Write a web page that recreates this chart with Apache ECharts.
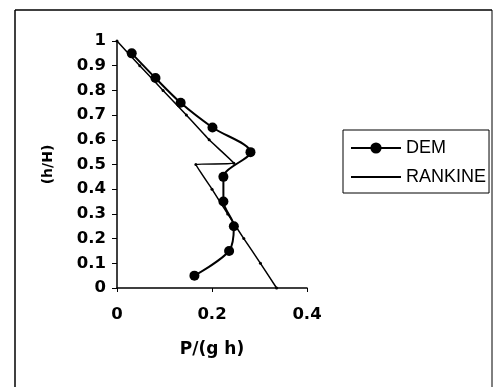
<!DOCTYPE html>
<html>
<head>
<meta charset="utf-8">
<script src="https://cdn.jsdelivr.net/npm/echarts@6/dist/echarts.min.js"></script>
<style>
html, body { margin: 0; padding: 0; background: #fff; }
#chart { width: 494px; height: 387px; }
</style>
</head>
<body>
<div id="chart"></div>
<script>
// DEM results, P/(g h) against h/H
const demX = [0.031, 0.081, 0.134, 0.201, 0.281, 0.224, 0.224, 0.246, 0.236, 0.163]
const demY = [0.95, 0.85, 0.75, 0.65, 0.55, 0.45, 0.35, 0.25, 0.15, 0.05]
// Rankine curve
const rankineX = [0, 0.048, 0.097, 0.146, 0.194, 0.246, 0.166, 0.2, 0.233, 0.267, 0.302, 0.336]
const rankineY = [1, 0.9, 0.8, 0.7, 0.6, 0.505, 0.5, 0.4, 0.3, 0.2, 0.1, 0]
const xTicks = [0, 0.2, 0.4]

const tickFont = "DejaVu Sans, sans-serif"
const legendFont = "Liberation Sans, Arial, sans-serif"
const chart = echarts.init(document.getElementById("chart"))

chart.setOption({
	animation: false,
	backgroundColor: "#fff",
	grid: { left: 117, right: 187, top: 41, bottom: 99 },
	xAxis: {
		type: "value",
		min: 0,
		max: 0.4,
		interval: 0.2,
		name: "P/(g h)",
		nameLocation: "middle",
		nameGap: 53,
		nameTextStyle: { color: "#000", fontFamily: tickFont, fontSize: 17, fontWeight: "bold" },
		axisLine: { lineStyle: { color: "#000", width: 1.5 } },
		axisTick: { show: true, length: 4, lineStyle: { color: "#000" } },
		axisLabel: {
			color: "#000",
			fontFamily: tickFont,
			fontSize: 16.5,
			fontWeight: "bold",
			margin: 18,
			formatter: v => (xTicks.includes(+v.toFixed(1)) ? String(+v.toFixed(1)) : ""),
		},
		splitLine: { show: false },
	},
	yAxis: {
		type: "value",
		min: 0,
		max: 1,
		interval: 0.1,
		name: "(h/H)",
		nameLocation: "middle",
		nameGap: 62,
		nameTextStyle: { color: "#000", fontFamily: tickFont, fontSize: 14, fontWeight: "bold" },
		axisLine: { lineStyle: { color: "#000", width: 1.5 } },
		axisTick: { show: true, length: 5, lineStyle: { color: "#000" } },
		axisLabel: {
			color: "#000",
			fontFamily: tickFont,
			fontSize: 16.5,
			fontWeight: "bold",
			margin: 11,
			formatter: v => String(+v.toFixed(1)),
		},
		splitLine: { show: false },
	},
	legend: {
		orient: "vertical",
		left: 343,
		top: 130,
		padding: [9, 3, 7, 7],
		itemWidth: 50,
		itemHeight: 14,
		itemGap: 11,
		borderColor: "#000",
		borderWidth: 1,
		textStyle: { color: "#000", fontFamily: legendFont, fontSize: 18 },
		data: [
			{ name: "DEM" },
			{ name: "RANKINE", itemStyle: { color: "transparent", borderWidth: 0 } },
		],
	},
	series: [
		{
			name: "DEM",
			type: "line",
			smooth: 0.3,
			symbol: "circle",
			symbolSize: 10,
			lineStyle: { color: "#000", width: 2 },
			itemStyle: { color: "#000" },
			data: demX.map((x, i) => [x, demY[i]]),
		},
		{
			name: "RANKINE",
			type: "line",
			smooth: 0.15,
			symbol: "circle",
			symbolSize: 3,
			lineStyle: { color: "#000", width: 1.5 },
			itemStyle: { color: "#000" },
			data: rankineX.map((x, i) => [x, rankineY[i]]),
		},
	],
	graphic: [
		{ type: "line", shape: { x1: 15, y1: 10, x2: 15, y2: 387 }, style: { stroke: "#000", lineWidth: 1.5 } },
		{ type: "line", shape: { x1: 15, y1: 10, x2: 492, y2: 10 }, style: { stroke: "#000", lineWidth: 1.5 } },
		{ type: "line", shape: { x1: 492, y1: 10, x2: 492, y2: 387 }, style: { stroke: "#000", lineWidth: 1 } },
	],
})
</script>
</body>
</html>
